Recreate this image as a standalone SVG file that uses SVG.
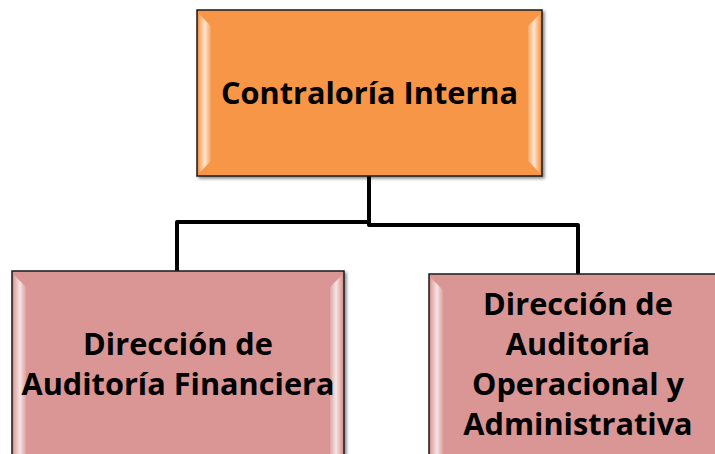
<svg xmlns="http://www.w3.org/2000/svg" width="715" height="454" viewBox="0 0 715 454">
<defs>
<filter id="sh" x="-5%" y="-5%" width="115%" height="115%">
<feGaussianBlur in="SourceAlpha" stdDeviation="1.5"/>
<feOffset dx="2" dy="2" result="b"/>
<feComponentTransfer><feFuncA type="linear" slope="0.45"/></feComponentTransfer>
<feMerge><feMergeNode/><feMergeNode in="SourceGraphic"/></feMerge>
</filter>
<linearGradient id="bl" x1="0" y1="0" x2="1" y2="0">
<stop offset="0" stop-color="#fff" stop-opacity="0.15"/>
<stop offset="0.5" stop-color="#fff" stop-opacity="0.75"/>
<stop offset="1" stop-color="#fff" stop-opacity="0.1"/>
</linearGradient>
</defs>
<style>
.box{stroke:#1a1a1a;stroke-width:1.5}
.org{fill:#F79646}
.pink{fill:#D99694}
.bev{fill:url(#bl)}
.t{font-family:"Open Sans","Noto Sans",sans-serif;font-weight:bold;fill:#000;text-anchor:middle;font-size:30.7px}
.c{fill:none;stroke:#000;stroke-width:4;stroke-linejoin:round}
</style>
<g id="connectors">
<path class="c" d="M369 176 V222 H177 V272"/>
<path class="c" d="M369 222 V225 H578 V274"/>
</g>
<g id="n1">
<rect class="box org" x="197" y="10" width="345" height="166" filter="url(#sh)"/>
<polygon class="bev" points="199,14 211,26 211,161 199,173"/>
<polygon class="bev" points="540,14 528,26 528,161 540,173"/>
<text class="t" x="369.5" y="104">Contraloría Interna</text>
</g>
<g id="n2">
<rect class="box pink" x="12" y="271" width="332" height="200" filter="url(#sh)"/>
<polygon class="bev" points="14,275 26,287 26,460 14,460"/>
<polygon class="bev" points="342,275 330,287 330,460 342,460"/>
<text class="t" x="178" y="355">Dirección de</text>
<text class="t" x="178" y="395">Auditoría Financiera</text>
</g>
<g id="n3">
<rect class="box pink" x="429" y="274" width="300" height="200" filter="url(#sh)"/>
<polygon class="bev" points="431,278 443,290 443,460 431,460"/>
<text class="t" x="578" y="315">Dirección de</text>
<text class="t" x="578" y="355">Auditoría</text>
<text class="t" x="578" y="395">Operacional y</text>
<text class="t" x="578" y="435">Administrativa</text>
</g>
</svg>
